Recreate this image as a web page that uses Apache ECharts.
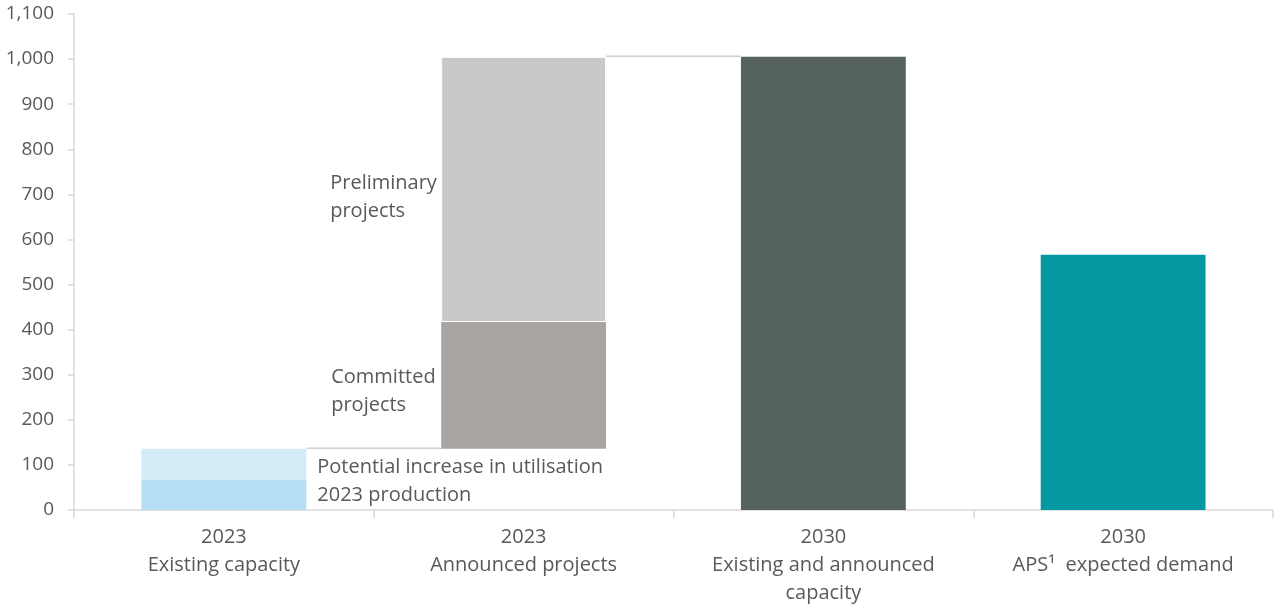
<!DOCTYPE html>
<html>
<head>
    <meta charset="utf-8">
    <title>Capacity vs demand</title>
    <script src="https://cdn.jsdelivr.net/npm/echarts@6/dist/echarts.min.js"></script>
    <style>
        html, body { margin: 0; padding: 0; background: #fff; }
    </style>
</head>
<body>
    <div id="main" style="width: 1277px;height:604px;"></div>
<script>
    // categories on the x axis
    var categories = [
        '2023\nExisting capacity',
        '2023\nAnnounced projects',
        '2030\nExisting and announced\ncapacity',
        '2030\nAPS¹  expected demand'
    ];
    // waterfall pieces (stacked), '-' = nothing in that column
    var baseValues = [0, 136, 0, 0];               // invisible lift
    var production2023 = [67, '-', '-', '-'];
    var potentialIncrease = [69, '-', '-', '-'];
    var committedProjects = ['-', 281, '-', '-'];
    var preliminaryProjects = ['-', 588, '-', '-'];
    var existingAndAnnounced = ['-', '-', 1005, '-'];
    var expectedDemand = ['-', '-', '-', 566];
    // connectors: [from column, level, to column]
    var connectors = [[0, 136, 1], [1, 1005, 2]];
    var yTicks = { min: 0, max: 1100, interval: 100 };

    var textColor = '#595959';
    var font = "'Open Sans', 'Noto Sans', sans-serif";
    var barW = 0.55;

    var chart = echarts.init(document.getElementById('main'));

    function sideLabel(text, pos, dist, off) {
        return {
            show: true,
            formatter: text,
            position: pos,
            distance: dist || 5,
            offset: off || [0, 0],
            color: textColor,
            fontSize: 20,
            fontFamily: font,
            lineHeight: 28,
            align: 'left',
            verticalAlign: 'middle'
        };
    }

    var option = {
        backgroundColor: '#fff',
        animation: false,
        grid: { left: 74, right: 4, top: 14, bottom: 94, outerBoundsMode: 'none', containLabel: false },
        xAxis: {
            type: 'category',
            data: categories,
            axisLine: { lineStyle: { color: '#d9d9d9', width: 1.5 } },
            axisTick: { show: true, length: 8, lineStyle: { color: '#d9d9d9', width: 1.5 } },
            axisLabel: {
                color: textColor,
                fontSize: 20,
                fontFamily: font,
                lineHeight: 28,
                margin: 13,
                interval: 0
            }
        },
        yAxis: {
            type: 'value',
            min: yTicks.min,
            max: yTicks.max,
            interval: yTicks.interval,
            splitLine: { show: false },
            axisLine: { show: true, lineStyle: { color: '#d9d9d9', width: 1.5 } },
            axisTick: { show: true, length: 6, lineStyle: { color: '#d9d9d9', width: 1.5 } },
            axisLabel: {
                color: textColor,
                fontSize: 19,
                fontFamily: font,
                margin: 20,
                formatter: function (v) { return v.toLocaleString('en-US'); }
            }
        },
        series: [
            {
                name: 'base', type: 'bar', stack: 'w', barWidth: '55%',
                itemStyle: { color: 'transparent' },
                silent: true,
                data: baseValues
            },
            {
                name: '2023 production', type: 'bar', stack: 'w',
                itemStyle: { color: '#b7def7' },
                label: sideLabel('2023 production', 'right', 11),
                data: production2023
            },
            {
                name: 'Potential increase in utilisation', type: 'bar', stack: 'w',
                itemStyle: { color: '#d4ebf8' },
                label: sideLabel('Potential increase in utilisation', 'right', 11, [0, 3]),
                data: potentialIncrease
            },
            {
                name: 'Committed projects', type: 'bar', stack: 'w',
                itemStyle: { color: '#a9a5a3' },
                label: sideLabel('Committed\nprojects', [-110, '50%'], 5, [0, 6]),
                data: committedProjects
            },
            {
                name: 'Preliminary projects', type: 'bar', stack: 'w',
                itemStyle: { color: '#c8c8c8', borderColor: '#fff', borderWidth: 1 },
                label: sideLabel('Preliminary\nprojects', [-111, '52%'], 5, [0, 3]),
                data: preliminaryProjects
            },
            {
                name: 'Existing and announced capacity', type: 'bar', stack: 'w',
                itemStyle: { color: '#56625f' },
                data: existingAndAnnounced
            },
            {
                name: 'APS expected demand', type: 'bar', stack: 'w',
                itemStyle: { color: '#0598a2' },
                data: expectedDemand
            },
            {
                name: 'connectors', type: 'custom',
                encode: { x: [0, 2], y: 1 },
                silent: true,
                data: connectors,
                renderItem: function (params, api) {
                    var p0 = api.coord([api.value(0), api.value(1)]);
                    var p1 = api.coord([api.value(2), api.value(1)]);
                    var half = api.size([1, 0])[0] * barW / 2;
                    return {
                        type: 'line',
                        shape: { x1: p0[0] + half, y1: p0[1] - 0.5, x2: p1[0] - half, y2: p1[1] - 0.5 },
                        style: { stroke: '#d0d0d0', lineWidth: 1.5 }
                    };
                }
            }
        ]
    };
    chart.setOption(option);
</script>
</body>
</html>
